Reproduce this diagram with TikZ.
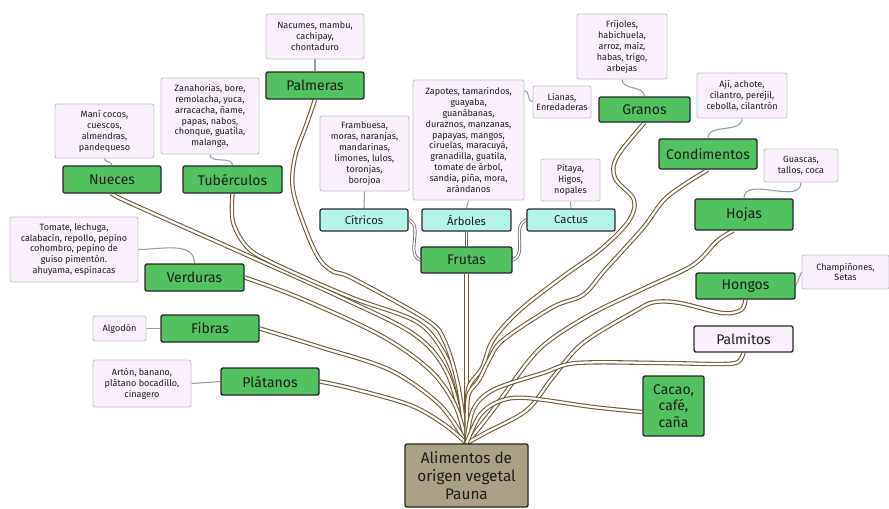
\documentclass[tikz,border=0pt]{standalone}
\usepackage{fontspec}
\setmainfont{Fira Sans}
\usetikzlibrary{backgrounds,calc}
\definecolor{gfill}{RGB}{82,193,95}
\definecolor{nfill}{RGB}{250,241,253}
\definecolor{nbord}{RGB}{196,196,202}
\definecolor{cfill}{RGB}{180,244,234}
\definecolor{rfill}{RGB}{171,161,134}
\definecolor{brn}{RGB}{110,90,52}
\definecolor{thinc}{RGB}{150,158,165}
\definecolor{dk}{RGB}{40,40,40}
\definecolor{txt}{RGB}{30,30,30}
\tikzset{
  gbox/.style={draw=dk, fill=gfill, line width=1pt, rounded corners=1.5pt, inner sep=1pt, text=txt, font=\fontsize{10.5}{12.5}\selectfont, align=center},
  cbox/.style={draw=dk, fill=cfill, line width=0.9pt, rounded corners=1.5pt, inner sep=1pt, text=txt, font=\fontsize{8.5}{10}\selectfont, minimum height=16.5pt},
  nbox/.style={draw=nbord, fill=nfill, line width=0.7pt, rounded corners=1.5pt, inner sep=1pt, text=txt, font=\fontsize{6.8}{8.2}\selectfont, align=center},
  pbox/.style={draw=dk, fill=nfill, line width=1pt, rounded corners=1.5pt, inner sep=1pt, text=txt, font=\fontsize{10.5}{12.5}\selectfont},
  rbox/.style={draw=dk, fill=rfill, line width=1pt, rounded corners=1.5pt, inner sep=1pt, text=txt, font=\fontsize{11.5}{13.5}\selectfont, align=center},
  br/.style={draw=brn, double=white, double distance=1.7pt, line width=0.8pt},
  gdbl/.style={draw=gray!80!black, double=white, double distance=1.1pt, line width=0.6pt},
  thinl/.style={draw=thinc, line width=0.8pt},
}
\begin{document}
\begin{tikzpicture}[x=0.75pt,y=-0.75pt]
\useasboundingbox (0,0) rectangle (889,508);
% root
\node[rbox, minimum width=92.25pt, minimum height=47.25pt] (root) at (466.5,475.5) {Alimentos de\\origen vegetal\\Pauna};
% left
\node[gbox, minimum width=73.5pt, minimum height=20.25pt] (pal) at (315,85.5) {Palmeras};
\node[nbox, minimum width=73.5pt, minimum height=33.75pt] (palN) at (315,36.5) {Nacumes, mambu,\\cachipay,\\chontaduro};
\node[gbox, minimum width=73.5pt, minimum height=20.25pt] (nue) at (112,179.5) {Nueces};
\node[nbox, minimum width=74.25pt, minimum height=40.5pt] (nueN) at (104.5,131) {Maní cocos,\\cuescos,\\almendras,\\pandequeso};
\node[gbox, minimum width=74.25pt, minimum height=20.25pt] (tub) at (232.5,179.5) {Tubérculos};
\node[nbox, minimum width=73.5pt, minimum height=57pt] (tubN) at (210,116) {Zanahorias, bore,\\remolacha, yuca,\\arracacha, ñame,\\papas, nabos,\\chonque, guatila,\\malanga,};
\node[gbox, minimum width=74.25pt, minimum height=20.25pt] (ver) at (194.5,277.5) {Verduras};
\node[nbox, minimum width=96pt, minimum height=48.75pt] (verN) at (74,249.5) {Tomate, lechuga,\\calabacín, repollo, pepino\\cohombro, pepino de\\guiso pimentón.\\ahuyama, espinacas};
\node[gbox, minimum width=73.5pt, minimum height=20.25pt] (fib) at (210,328.5) {Fibras};
\node[nbox, minimum width=39.75pt, minimum height=18.75pt] (alg) at (119.5,328.5) {Algodón};
\node[gbox, minimum width=73.5pt, minimum height=20.25pt] (pla) at (270,381.5) {Plátanos};
\node[nbox, minimum width=73.5pt, minimum height=35.25pt] (plaN) at (142,383.5) {Artón, banano,\\plátano bocadillo,\\cinagero};
% frutas
\node[gbox, minimum width=68.25pt, minimum height=19.5pt] (fru) at (466.5,260) {Frutas};
\node[cbox, minimum width=66pt] (cit) at (364,220) {Cítricos};
\node[nbox, minimum width=66.75pt, minimum height=56.25pt] (citN) at (364.5,153.5) {Frambuesa,\\moras, naranjas,\\mandarinas,\\limones, lulos,\\toronjas,\\borojoa};
\node[cbox, minimum width=66.75pt] (arb) at (466.5,220) {Árboles};
\node[nbox, minimum width=83.25pt, minimum height=90pt] (arbN) at (468.5,140) {Zapotes, tamarindos,\\guayaba,\\guanábanas,\\duraznos, manzanas,\\papayas, mangos,\\ciruelas, maracuyá,\\granadilla, guatila,\\tomate de árbol,\\sandia, piña, mora,\\arándanos};
\node[nbox, minimum width=43.5pt, minimum height=24pt] (lia) at (562,102) {Lianas,\\Enredaderas};
\node[cbox, minimum width=66pt] (cac) at (571,220) {Cactus};
\node[nbox, minimum width=44.25pt, minimum height=31.5pt] (cacN) at (570.5,180) {Pitaya,\\Higos,\\nopales};
% right
\node[gbox, minimum width=68.25pt, minimum height=18.75pt] (gra) at (644.5,109.5) {Granos};
\node[nbox, minimum width=67.5pt, minimum height=48.75pt] (graN) at (622,46.5) {Fríjoles,\\habichuela,\\arroz, maíz,\\habas, trigo,\\arbejas};
\node[gbox, minimum width=73.5pt, minimum height=22.5pt] (con) at (708,154) {Condimentos};
\node[nbox, minimum width=67.5pt, minimum height=33.75pt] (conN) at (742,95.5) {Ají, achote,\\cilantro, perejil,\\cebolla, cilantrón};
\node[gbox, minimum width=73.5pt, minimum height=23.25pt] (hoj) at (744,214.5) {Hojas};
\node[nbox, minimum width=55.5pt, minimum height=24.75pt] (hojN) at (801,165.5) {Guascas,\\tallos, coca};
\node[gbox, minimum width=74.25pt, minimum height=19.5pt] (hon) at (745.5,286) {Hongos};
\node[nbox, minimum width=65.25pt, minimum height=25.5pt] (honN) at (845.5,272) {Champiñones,\\Setas};
\node[pbox, minimum width=74.25pt, minimum height=19.5pt] (pmt) at (743.5,339) {Palmitos};
\node[gbox, minimum width=45.75pt, minimum height=45pt] (cacao) at (673.5,406) {Cacao,\\café,\\caña};

\begin{scope}[on background layer]
\fill[white] (0,0) rectangle (889,508);
% thin note connectors
\draw[thinl] (palN.south) -- (pal.north);
\draw[thinl] (nueN.south) to[out=-90,in=90] (nue.north);
\draw[thinl] (tubN.south) to[out=-90,in=90] (tub.north);
\draw[thinl] (verN.east) to[out=0,in=90] (ver.north);
\draw[thinl] (alg.east) -- (fib.west);
\draw[thinl] (plaN.east) -- (pla.west);
\draw[thinl] (citN.south) -- (cit.north);
\draw[thinl] (arbN.south) -- (arb.north);
\draw[thinl] ($(arbN.north east)+(0,11)$) to[out=0,in=180] (lia.west);
\draw[thinl] (cacN.south) -- (cac.north);
\draw[thinl] (graN.south) to[out=-90,in=90] (gra.north);
\draw[thinl] (conN.south) to[out=-90,in=90] (con.north);
\draw[thinl] (hojN.south) to[out=-90,in=90] (hoj.north);
\draw[thinl] (hon.east) -- (honN.west);
% gray double
\draw[gdbl] (cit.east) to[out=-20,in=160] (fru.west);
\draw[gdbl] (cac.west) to[out=200,in=20] (fru.east);
\draw[gdbl] (arb.south) -- (fru.north);
% brown branches
\draw[br] (fru.south) -- (root.north);
\draw[br] plot[smooth, tension=0.55] coordinates {(nue.south) (130,203) (240,252) (340,297) (415,335) (448,375) (root.north)};
\draw[br] plot[smooth, tension=0.55] coordinates {(tub.south) (233,222) (247,247) (273,263) (350,297) (417,322) (445,355) (459,395) (root.north)};
\draw[br] plot[smooth, tension=0.55] coordinates {(pal.south) (307,123) (295,157) (293,190) (307,233) (320,260) (334,272) (352,278) (427,320) (445,342) (458,385) (root.north)};
\draw[br] plot[smooth, tension=0.55] coordinates {(ver.east) (300,298) (380,335) (430,370) (455,405) (root.north)};
\draw[br] plot[smooth, tension=0.55] coordinates {(fib.east) (320,347) (390,370) (440,405) (root.north)};
\draw[br] plot[smooth, tension=0.55] coordinates {(pla.east) (350,388) (410,405) (445,425) (root.north)};
\draw[br] plot[smooth, tension=0.55] coordinates {(gra.south) (617,157) (615,178) (634,200) (628,222) (600,250) (565,275) (520,310) (493,340) (482,368) (470,384) (467,400) (root.north)};
\draw[br] plot[smooth, tension=0.55] coordinates {(con.south) (667,197) (643,228) (605,270) (583,295) (553,307) (503,340) (489,360) (479,380) (469,393) (467,410) (root.north)};
\draw[br] plot[smooth, tension=0.55] coordinates {($(hoj.south)+(-11,0)$) (717,241) (693,265) (647,287) (593,313) (550,340) (527,363) (493,410) (root.north)};
\draw[br] plot[smooth, tension=0.55] coordinates {(hon.south) (741,310) (722,313) (680,303) (655,302) (637,310) (583,343) (553,377) (527,410) (487,432) (root.north)};
\draw[br] plot[smooth, tension=0.55] coordinates {(pmt.south) (738,362) (720,364) (660,363) (577,363) (543,373) (493,390) (473,410) (root.north)};
\draw[br] plot[smooth, tension=0.55] coordinates {($(cacao.west)+(0,6)$) (593,407) (527,398) (500,401) (480,415) (root.north)};
\end{scope}
\end{tikzpicture}
\end{document}
